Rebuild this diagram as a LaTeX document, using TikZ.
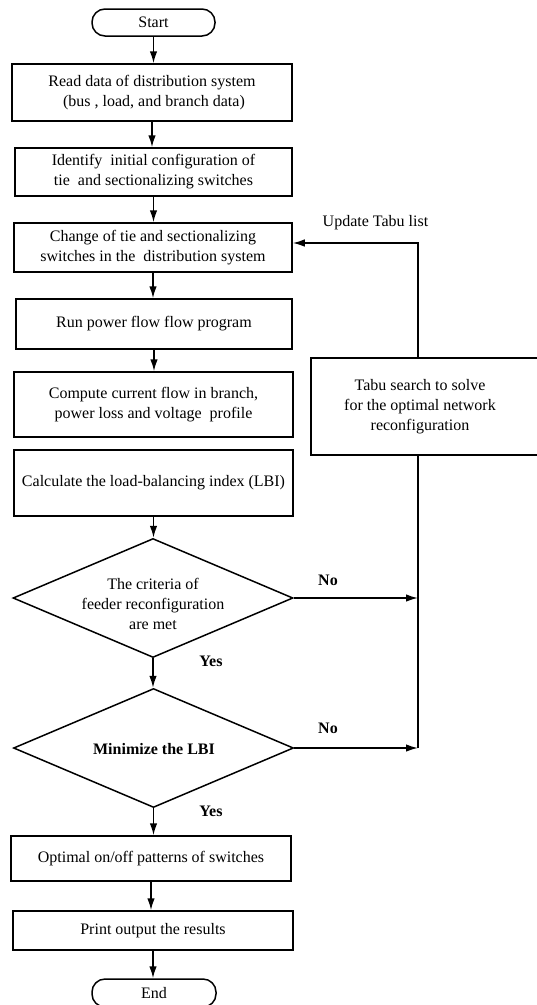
\documentclass[tikz,border=0pt]{standalone}
\usepackage{fontspec}
\setmainfont{Liberation Serif}
\usetikzlibrary{shapes.geometric,arrows.meta}
\begin{document}
\begin{tikzpicture}[x=1pt,y=-1pt, line width=1.5pt,
  every node/.style={font=\fontsize{16}{20}\selectfont},
  proc/.style={draw, rectangle, align=center, inner sep=0pt},
  term/.style={draw, rectangle, rounded corners=13pt, inner sep=0pt, minimum width=123pt, minimum height=27pt},
  dia/.style={draw, diamond, inner sep=0pt, minimum width=280pt, minimum height=119pt},
  txt/.style={align=center, inner sep=0pt},
  arr/.style={-{Latex[length=12pt,width=7.5pt]}},
  lbl/.style={font=\fontsize{16}{20}\selectfont\bfseries, inner sep=0pt}]
\useasboundingbox (0,0) rectangle (537,1005);

\node[term] (start) at (153.5,22.5) {Start};
\node[proc, minimum width=280pt, minimum height=57pt] (b1) at (152,92.5) {Read data of distribution system\\ \ (bus , load, and branch data)};
\node[proc, minimum width=277pt, minimum height=48pt] (b2) at (153.5,172) {Identify\ \ initial configuration of\\tie\ \ and sectionalizing switches};
\node[proc, minimum width=278pt, minimum height=49pt] (b3) at (153,247.5) {Change of tie and sectionalizing\\switches in the\ \ distribution system};
\node[proc, minimum width=276pt, minimum height=50pt] (b4) at (154,324) {Run power flow flow program};
\node[proc, minimum width=279pt, minimum height=65pt] (b5) at (153.5,404.5) {Compute current flow in branch,\\power loss and voltage\ \ profile};
\node[proc, minimum width=279pt, minimum height=66pt] (b6) at (153.5,483) {Calculate the load-balancing index (LBI)};
\node[dia] (d1) at (153,598) {};
\node[txt] (d1t) at (153,604) {The criteria of\\feeder reconfiguration\\are met};
\node[dia] (d2) at (153.5,748) {};
\node[lbl] (d2t) at (154,749) {Minimize the LBI};
\node[proc, minimum width=280pt, minimum height=45pt] (b7) at (151,858.5) {Optimal on/off patterns of switches};
\node[proc, minimum width=280pt, minimum height=39pt] (b8) at (153,930.5) {Print output the results};
\node[term, minimum width=124pt, minimum height=28pt] (end) at (154,993) {End};

\node[proc, minimum width=234pt, minimum height=97pt] (tabu) at (428,406.5) {};
\node[txt] (tabut) at (420,407) {Tabu search to solve\\for the optimal network\\reconfiguration};
\node[inner sep=0pt] (upd) at (375.5,223) {Update Tabu list};

\node[lbl] (no1) at (328,580) {No};
\node[lbl] (no2) at (328,728) {No};
\node[lbl] (yes1) at (211,661) {Yes};
\node[lbl] (yes2) at (211,811) {Yes};

\coordinate (fbx) at (418,0);

\draw[arr] (start.south) -- (start.south |- b1.north);
\draw[arr] (b1.south) -- (b1.south |- b2.north);
\draw[arr] (b2.south) -- (b2.south |- b3.north);
\draw[arr] (b3.south) -- (b3.south |- b4.north);
\draw[arr] (b4.south) -- (b4.south |- b5.north);
\draw[arr] (b6.south) -- (b6.south |- d1.north);
\draw[arr] (d1.south) -- (d1.south |- d2.north);
\draw[arr] (d2.south) -- (d2.south |- b7.north);
\draw[arr] (b7.south) -- (b7.south |- b8.north);
\draw[arr] (b8.south) -- (b8.south |- end.north);

\draw[arr] (d1.east) -- (d1.east -| fbx);
\draw[arr] (d2.east) -- (d2.east -| fbx);
\draw (d2.east -| fbx) -- (tabu.south -| fbx);
\draw[arr] (tabu.north -| fbx) |- ([yshift=4.5pt]b3.east);
\end{tikzpicture}
\end{document}
